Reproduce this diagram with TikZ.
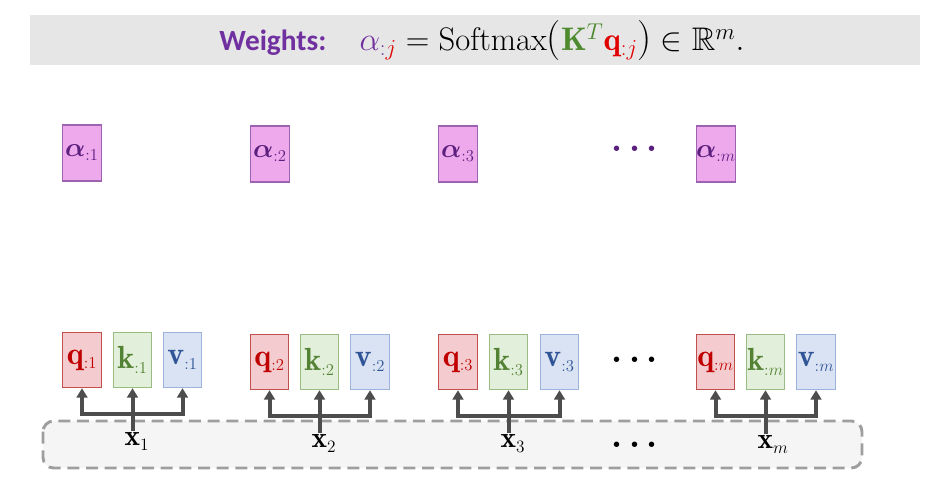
\RequirePackage{fix-cm}
\documentclass[tikz,border=0pt]{standalone}
\usepackage{amsmath,amssymb}
\usepackage{fontspec}
\newfontfamily\calibri{Carlito}
\usetikzlibrary{arrows.meta}
\DeclareMathSizes{24}{24}{12.5}{9}
\DeclareMathSizes{20}{20}{12.5}{9}
\DeclareMathSizes{22}{22}{13}{9}

\definecolor{qtext}{HTML}{C00000}
\definecolor{qfill}{HTML}{F4CCCF}
\definecolor{qline}{HTML}{C0504D}
\definecolor{ktext}{HTML}{548235}
\definecolor{kfill}{HTML}{E2EFDA}
\definecolor{kline}{HTML}{9BBB85}
\definecolor{vtext}{HTML}{2F5597}
\definecolor{vfill}{HTML}{DAE3F3}
\definecolor{vline}{HTML}{9DB3DD}
\definecolor{atext}{HTML}{5B1F7E}
\definecolor{afill}{HTML}{EEA8EC}
\definecolor{aline}{HTML}{9E62B0}
\definecolor{wtext}{HTML}{7030A0}
\definecolor{jred}{HTML}{E00000}
\definecolor{kgreen}{HTML}{4E8A2E}
\definecolor{band}{HTML}{E6E6E6}
\definecolor{arrgray}{HTML}{4D4D4D}

\newcommand{\bigparen}[1]{\text{\fontsize{30}{30}\selectfont #1}}

\tikzset{
  vecbox/.style={draw, line width=0.8pt, minimum width=29pt, minimum height=41.5pt, inner sep=0pt, font=\fontsize{24}{26}\selectfont},
  qbox/.style={vecbox, fill=qfill, draw=qline, text=qtext},
  kbox/.style={vecbox, fill=kfill, draw=kline, text=ktext},
  vbox/.style={vecbox, fill=vfill, draw=vline, text=vtext},
  abox/.style={vecbox, fill=afill, draw=aline, text=atext, minimum height=42pt, font=\fontsize{20}{22}\selectfont},
  xlabel/.style={inner sep=1pt, font=\fontsize{22}{24}\selectfont},
  dots/.style={font=\fontsize{26}{28}\selectfont\boldmath},
  arr/.style={draw=arrgray, line width=3pt, -{Triangle[length=7pt,width=8pt]}},
  bar/.style={draw=arrgray, line width=3pt}
}

\begin{document}
\begin{tikzpicture}[x=0.75pt,y=-0.75pt]
\useasboundingbox (0,0) rectangle (952,478);

% header band
\fill[band] (30,15) rectangle (920,65);
\node (head) at (482,41) {{\calibri\bfseries\fontsize{22}{24}\selectfont\color{wtext}Weights:}\hspace{25pt}%
  \fontsize{24.5}{27}\selectfont$\textcolor{wtext}{\alpha_{:\textcolor{jred}{j}}} = \mathrm{Softmax}\mathopen{\bigparen{(}}\textcolor{kgreen}{\mathbf{K}^T}\textcolor{jred}{\mathbf{q}_{:j}}\mathclose{\bigparen{)}} \in \mathbb{R}^m.$};

% weights
\node[abox] (a1) at (82,153) {$\boldsymbol{\alpha}_{:1}$};
\node[abox] (a2) at (270,154) {$\boldsymbol{\alpha}_{:2}$};
\node[abox] (a3) at (458,154) {$\boldsymbol{\alpha}_{:3}$};
\node[dots, text=atext] (adots) at (638,149) {$\cdots$};
\node[abox] (am) at (716,154) {$\boldsymbol{\alpha}_{:m}$};

% input band
\draw[draw=black!38, fill=black!4, line width=2.2pt, dash pattern=on 9pt off 5pt, rounded corners=8pt] (43,421) rectangle (862,468);

% q k v
\node[qbox] (q1) at (82,360) {$\mathbf{q}_{:1}$};
\node[kbox] (k1) at (132.5,360) {$\mathbf{k}_{:1}$};
\node[vbox] (v1) at (182.5,360) {$\mathbf{v}_{:1}$};

\node[qbox] (q2) at (269.5,362) {$\mathbf{q}_{:2}$};
\node[kbox] (k2) at (319.5,362) {$\mathbf{k}_{:2}$};
\node[vbox] (v2) at (370,362) {$\mathbf{v}_{:2}$};

\node[qbox] (q3) at (458,362) {$\mathbf{q}_{:3}$};
\node[kbox] (k3) at (508.5,362) {$\mathbf{k}_{:3}$};
\node[vbox] (v3) at (559.5,362) {$\mathbf{v}_{:3}$};

\node[dots] (qdots) at (638,360) {$\cdots$};

\node[qbox] (qm) at (715.5,362) {$\mathbf{q}_{:m}$};
\node[kbox] (km) at (765.5,362) {$\mathbf{k}_{:m}$};
\node[vbox] (vm) at (816,362) {$\mathbf{v}_{:m}$};

% inputs
\node[xlabel, anchor=north west] (x1) at (123,431) {$\mathbf{x}_1$};
\node[xlabel, anchor=north west] (x2) at (310,433) {$\mathbf{x}_2$};
\node[xlabel, anchor=north west] (x3) at (499,433) {$\mathbf{x}_3$};
\node[dots] (xdots) at (638,445) {$\cdots$};
\node[xlabel, anchor=north west] (xm) at (756,434) {$\mathbf{x}_m$};

% x -> q, k, v
\draw[arr] (k1.south |- x1.north) -- (k1.south);
\draw[bar] (q1.south |- 0,414) -- (v1.south |- 0,414);
\draw[arr] (q1.south |- 0,415.5) -- (q1.south);
\draw[arr] (v1.south |- 0,415.5) -- (v1.south);

\draw[arr] (k2.south |- x2.north) -- (k2.south);
\draw[bar] (q2.south |- 0,416) -- (v2.south |- 0,416);
\draw[arr] (q2.south |- 0,417.5) -- (q2.south);
\draw[arr] (v2.south |- 0,417.5) -- (v2.south);

\draw[arr] (k3.south |- x3.north) -- (k3.south);
\draw[bar] (q3.south |- 0,416) -- (v3.south |- 0,416);
\draw[arr] (q3.south |- 0,417.5) -- (q3.south);
\draw[arr] (v3.south |- 0,417.5) -- (v3.south);

\draw[arr] (km.south |- xm.north) -- (km.south);
\draw[bar] (qm.south |- 0,416) -- (vm.south |- 0,416);
\draw[arr] (qm.south |- 0,417.5) -- (qm.south);
\draw[arr] (vm.south |- 0,417.5) -- (vm.south);

\end{tikzpicture}
\end{document}
